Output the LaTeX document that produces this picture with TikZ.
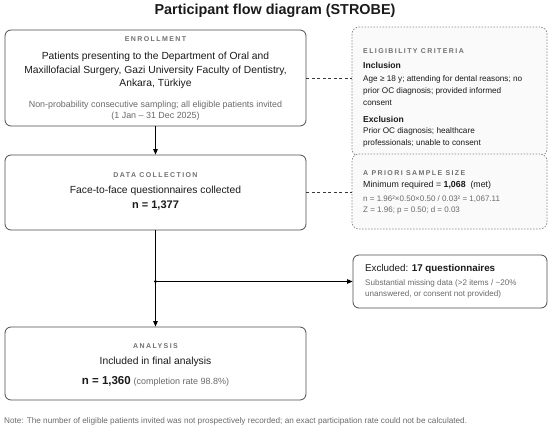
\documentclass[tikz,border=0pt]{standalone}
\usepackage{fontspec}
\setmainfont{Liberation Sans}
\newfontfamily\hdrfont{Liberation Sans}[LetterSpace=20]
\usetikzlibrary{arrows.meta}
\definecolor{txt}{HTML}{1A1A1A}
\definecolor{graytxt}{HTML}{6A6A6A}
\definecolor{hdrc}{HTML}{707070}
\definecolor{boxc}{HTML}{4D4D4D}
\definecolor{dashc}{HTML}{8A8A8A}
\definecolor{sidefill}{HTML}{FAFAFA}
\definecolor{connc}{HTML}{3A3A3A}
\begin{document}
\begin{tikzpicture}[x=1pt,y=-1pt,
  mainbox/.style={draw=boxc, line width=0.8pt, rounded corners=6pt, fill=white, inner sep=0pt, minimum width=301pt},
  sidebox/.style={draw=dashc, line width=0.75pt, dash pattern=on 1.5pt off 1.5pt, rounded corners=7pt, fill=sidefill, inner sep=0pt, minimum width=195pt},
  exbox/.style={draw=boxc, line width=0.8pt, rounded corners=6pt, fill=white, inner sep=0pt},
  hdr/.style={inner sep=0pt, text=hdrc, font=\hdrfont\fontsize{7}{8}\selectfont\bfseries},
  body/.style={inner sep=0pt, text=txt, font=\fontsize{10.3}{13.5}\selectfont, align=center},
  graybody/.style={inner sep=0pt, text=graytxt, font=\fontsize{8.9}{11.5}\selectfont, align=center},
  sidetxt/.style={inner sep=0pt, text=txt, anchor=west, align=left, font=\fontsize{8.2}{12}\selectfont},
  sidebold/.style={inner sep=0pt, text=txt, anchor=west, font=\fontsize{8.6}{10}\selectfont\bfseries},
  sidegray/.style={inner sep=0pt, text=graytxt, anchor=west, align=left, font=\fontsize{8}{11.5}\selectfont},
  arr/.style={draw=black, line width=0.8pt, -{Triangle[length=5.5pt,width=4.5pt]}},
  dashconn/.style={draw=connc, line width=0.7pt, dash pattern=on 3pt off 2.5pt}
]
\useasboundingbox (0,0) rectangle (550,431);

% title
\node[inner sep=0pt, text=txt, font=\fontsize{14.4}{17}\selectfont\bfseries] (title) at (275,11) {Participant flow diagram (STROBE)};

% enrollment
\node[mainbox, minimum height=96pt] (enr) at (155.5,78) {};
\node[hdr] (enrh) at (155.5,39) {ENROLLMENT};
\node[body] (enrt) at (155.5,70.5) {Patients presenting to the Department of Oral and\\Maxillofacial Surgery, Gazi University Faculty of Dentistry,\\Ankara, Türkiye};
\node[graybody] (enrg) at (155.5,110.7) {Non-probability consecutive sampling; all eligible patients invited\\(1 Jan – 31 Dec 2025)};

% data collection
\node[mainbox, minimum height=75pt] (dc) at (155.5,192.5) {};
\node[hdr] (dch) at (155.5,175) {DATA COLLECTION};
\node[body] (dct) at (155.5,191) {Face-to-face questionnaires collected};
\node[inner sep=0pt, text=txt, font=\fontsize{11}{13}\selectfont\bfseries] (dcn) at (155.5,206) {n = 1,377};

% analysis
\node[mainbox, minimum height=73pt] (an) at (155.5,363.5) {};
\node[hdr] (anh) at (155.5,346) {ANALYSIS};
\node[body] (ant) at (155.5,362) {Included in final analysis};
\node[inner sep=0pt, text=txt] (ann) at (155.5,381) {{\fontsize{11.5}{13}\selectfont\bfseries n = 1,360} {\color{graytxt}\fontsize{9}{11}\selectfont(completion rate 98.8\%)}};

% eligibility criteria
\node[sidebox, minimum height=129pt] (elig) at (449.5,91.5) {};
\node[hdr, anchor=west] (eligh) at (363,51) {ELIGIBILITY CRITERIA};
\node[sidebold] (incl) at (363,65) {Inclusion};
\node[sidetxt] (inclt) at (363,91) {Age ≥ 18 y; attending for dental reasons; no\\prior OC diagnosis; provided informed\\consent};
\node[sidebold] (excl) at (363,119) {Exclusion};
\node[sidetxt] (exclt) at (363,137) {Prior OC diagnosis; healthcare\\professionals; unable to consent};

% sample size
\node[sidebox, minimum height=75pt] (samp) at (449.5,191.5) {};
\node[hdr, anchor=west] (samph) at (363,173) {A PRIORI SAMPLE SIZE};
\node[inner sep=0pt, text=txt, anchor=west, font=\fontsize{8.8}{10}\selectfont] (sampm) at (363,185.5) {Minimum required = \textbf{1,068}\ \ (met)};
\node[sidegray] (sampn) at (363,205) {n = 1.96²×0.50×0.50 / 0.03² = 1,067.11\\Z = 1.96; p = 0.50; d = 0.03};

% excluded
\node[exbox, minimum width=194pt, minimum height=53pt] (ex) at (450,281.5) {};
\node[inner sep=0pt, text=txt, anchor=west, font=\fontsize{9.8}{11}\selectfont] (ext) at (365,269) {Excluded: \textbf{17 questionnaires}};
\node[inner sep=0pt, text=graytxt, anchor=west, align=left, font=\fontsize{8.1}{11}\selectfont] (exg) at (365,288.5) {Substantial missing data (>2 items / \textasciitilde20\%\\unanswered, or consent not provided)};

% note
\node[inner sep=0pt, text=graytxt, anchor=west, font=\fontsize{8.2}{10}\selectfont] (note) at (4,421) {Note: The number of eligible patients invited was not prospectively recorded; an exact participation rate could not be calculated.};

% connectors
\draw[arr] (enr.south) -- (dc.north);
\draw[arr] (dc.south) -- (an.north);
\coordinate (j) at (dc.south |- ex.west);
\fill[black] (j) circle (1.6pt);
\draw[arr] (j) -- (ex.west);
\draw[dashconn] (enr.east) -- (enr.east -| elig.west);
\draw[dashconn] (dc.east) -- (dc.east -| samp.west);
\end{tikzpicture}
\end{document}
